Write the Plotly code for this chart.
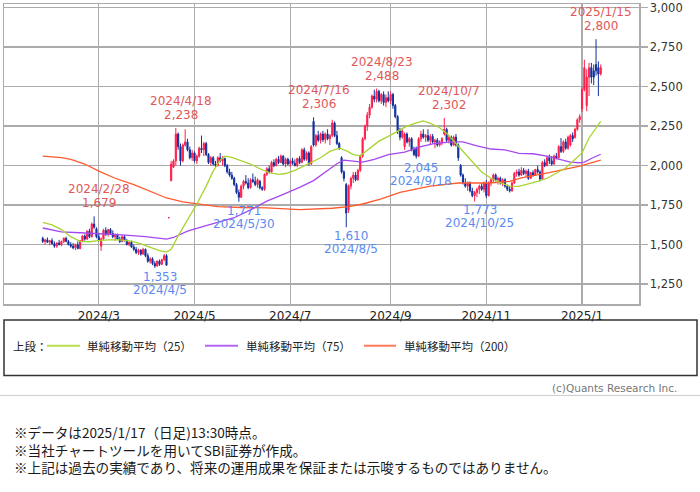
import pandas as pd
import plotly.graph_objects as go

# ---------------- data ----------------
holidays = ["2024-02-12", "2024-02-23", "2024-03-20", "2024-04-29", "2024-05-03",
            "2024-05-06", "2024-07-15", "2024-08-12", "2024-09-16", "2024-09-23",
            "2024-10-14", "2024-11-04", "2024-12-31", "2025-01-01", "2025-01-02",
            "2025-01-03", "2025-01-13"]
days = [d.strftime("%Y-%m-%d") for d in pd.bdate_range("2024-01-25", "2025-01-17")
        if d.strftime("%Y-%m-%d") not in holidays]

open_ = [
    1540, 1520, 1530, 1515, 1525,
    1505, 1490, 1510, 1500, 1520, 1540, 1520, 1500, 1490, 1480, 1500, 1475, 1525, 1555, 1535, 1585, 1550, 1630, 1600,
    1550, 1490, 1535, 1590, 1565, 1595, 1570, 1550, 1560, 1535, 1520, 1550, 1525, 1500, 1515, 1485, 1470, 1450, 1465, 1440,
    1470, 1430, 1395, 1410, 1380, 1365, 1395, 1375, 1405, 1430, 1670, 1905, 1990, 2030, 2200, 2120, 2030, 2130, 2150, 2100, 2050,
    2080, 2030, 2060, 2110, 2100, 2140, 2070, 2020, 2050, 2010, 2000, 2050, 2030, 2045, 2000, 1960, 1940, 1920, 1880, 1830, 1800,
    1870, 1900, 1890, 1860, 1910, 1900, 1880, 1900, 1860, 1850, 1945, 1980, 1960, 2020, 2000, 2040, 2020, 2060, 2010, 2040,
    2010, 2030, 2015, 2000, 2045, 2020, 2100, 2040, 2080, 2010, 2280, 2130, 2190, 2160, 2200, 2165, 2200, 2170, 2190, 2270, 2190, 2140,
    2050, 1960, 1880, 1720, 1870, 1920, 1940, 1910, 1970, 2060, 2170, 2250, 2320, 2370, 2440, 2420, 2470, 2410, 2450, 2400, 2430,
    2410, 2450, 2380, 2310, 2220, 2180, 2120, 2200, 2150, 2170, 2100, 2110, 2060, 2170, 2200, 2180, 2190, 2160, 2185,
    2150, 2160, 2130, 2150, 2200, 2230, 2160, 2180, 2130, 2180, 2130, 2000, 1940, 1890, 1870, 1890, 1840, 1810, 1830, 1850, 1870, 1850,
    1890, 1810, 1890, 1910, 1940, 1910, 1920, 1890, 1910, 1870, 1850, 1840, 1890, 1950, 1960, 1940, 1970, 1950, 1965, 1920,
    1955, 1940, 1975, 1960, 1915, 2020, 2000, 2050, 2030, 2010, 2060, 2050, 2120, 2090, 2150, 2110, 2130, 2190, 2180, 2230, 2290,
    2360, 2480, 2380, 2560, 2620, 2600, 2640, 2620, 2580,
]
high = [
    1550, 1535, 1545, 1530, 1540,
    1520, 1515, 1530, 1525, 1545, 1550, 1530, 1515, 1510, 1505, 1520, 1530, 1560, 1565, 1590, 1600, 1640, 1679, 1610,
    1575, 1545, 1600, 1610, 1600, 1605, 1590, 1570, 1570, 1550, 1560, 1560, 1535, 1520, 1525, 1500, 1485, 1475, 1470, 1480,
    1475, 1445, 1420, 1420, 1395, 1400, 1405, 1410, 1440, 1440, 1670, 2030, 2040, 2238, 2210, 2140, 2140, 2230, 2170, 2120, 2100,
    2090, 2070, 2120, 2190, 2150, 2150, 2080, 2060, 2060, 2030, 2060, 2080, 2060, 2050, 2010, 1980, 1960, 1930, 1890, 1850, 1880,
    1910, 1940, 1920, 1920, 1950, 1930, 1920, 1910, 1870, 1950, 1990, 2000, 2030, 2040, 2050, 2060, 2070, 2065, 2050, 2050,
    2040, 2050, 2040, 2050, 2060, 2110, 2115, 2090, 2090, 2130, 2306, 2200, 2220, 2210, 2220, 2210, 2230, 2200, 2290, 2280, 2220, 2150,
    2060, 1970, 1890, 1880, 1930, 1960, 1960, 1980, 2070, 2180, 2260, 2340, 2390, 2450, 2480, 2488, 2480, 2460, 2470, 2450, 2470,
    2470, 2460, 2390, 2320, 2240, 2230, 2210, 2210, 2180, 2180, 2120, 2120, 2180, 2220, 2230, 2200, 2230, 2200, 2200,
    2170, 2175, 2160, 2180, 2302, 2240, 2190, 2190, 2190, 2200, 2140, 2010, 1950, 1920, 1900, 1900, 1860, 1840, 1860, 1880, 1890, 1900,
    1910, 1900, 1920, 1950, 1950, 1930, 1930, 1920, 1920, 1880, 1870, 1900, 1960, 1975, 1980, 1990, 1985, 1975, 1980, 1960,
    1970, 1980, 2000, 1970, 2030, 2040, 2060, 2070, 2060, 2070, 2080, 2130, 2175, 2160, 2170, 2190, 2200, 2210, 2240, 2300, 2325,
    2500, 2670, 2610, 2650, 2650, 2640, 2800, 2660, 2640,
]
low = [
    1510, 1500, 1510, 1495, 1500,
    1480, 1480, 1495, 1490, 1510, 1515, 1495, 1480, 1470, 1465, 1470, 1470, 1515, 1525, 1530, 1540, 1545, 1600, 1540,
    1520, 1460, 1530, 1555, 1550, 1560, 1540, 1525, 1530, 1510, 1515, 1520, 1495, 1490, 1480, 1460, 1440, 1435, 1430, 1435,
    1420, 1385, 1380, 1370, 1353, 1360, 1365, 1370, 1395, 1365, 1670, 1900, 1985, 2000, 2100, 2000, 2020, 2120, 2090, 2040, 2030,
    2020, 2010, 2050, 2080, 2060, 2060, 2010, 2000, 2000, 1990, 1995, 2020, 2000, 1990, 1950, 1930, 1910, 1870, 1820, 1771, 1795,
    1850, 1880, 1850, 1855, 1890, 1870, 1860, 1850, 1840, 1840, 1935, 1950, 1955, 1990, 1995, 2010, 2015, 2000, 1990, 2000,
    1990, 2005, 1995, 1990, 2010, 2015, 2030, 2030, 2000, 2005, 2120, 2120, 2150, 2140, 2150, 2140, 2160, 2130, 2180, 2180, 2130, 2100,
    1950, 1900, 1610, 1700, 1850, 1890, 1900, 1905, 1960, 2050, 2160, 2220, 2300, 2360, 2400, 2400, 2400, 2390, 2380, 2370, 2400,
    2390, 2360, 2300, 2200, 2160, 2170, 2100, 2140, 2120, 2090, 2060, 2045, 2055, 2150, 2170, 2150, 2150, 2130, 2140,
    2110, 2120, 2120, 2130, 2190, 2150, 2140, 2120, 2125, 2120, 2030, 1930, 1880, 1860, 1840, 1830, 1800, 1773, 1800, 1820, 1840, 1830,
    1795, 1805, 1870, 1890, 1900, 1880, 1880, 1870, 1860, 1840, 1830, 1835, 1885, 1930, 1930, 1935, 1940, 1930, 1910, 1915,
    1930, 1935, 1950, 1900, 1910, 1990, 1995, 2010, 2000, 2005, 2040, 2040, 2080, 2080, 2100, 2100, 2120, 2150, 2170, 2220, 2270,
    2340, 2470, 2345, 2440, 2520, 2510, 2570, 2440, 2570,
]
close = [
    1520, 1530, 1515, 1525, 1505,
    1490, 1510, 1500, 1520, 1540, 1520, 1500, 1490, 1480, 1500, 1475, 1525, 1555, 1535, 1585, 1550, 1630, 1610, 1550,
    1530, 1535, 1590, 1565, 1595, 1570, 1550, 1560, 1535, 1520, 1550, 1525, 1500, 1515, 1485, 1470, 1450, 1465, 1440, 1470,
    1430, 1395, 1410, 1380, 1365, 1395, 1375, 1405, 1430, 1370, 1670, 2010, 2030, 2200, 2120, 2030, 2130, 2150, 2100, 2050, 2080,
    2030, 2060, 2110, 2100, 2140, 2070, 2020, 2050, 2010, 2000, 2050, 2030, 2045, 2000, 1960, 1940, 1920, 1880, 1830, 1800, 1870,
    1900, 1890, 1860, 1910, 1900, 1880, 1910, 1860, 1850, 1945, 1980, 1960, 2020, 2000, 2040, 2020, 2060, 2010, 2040, 2010,
    2030, 2015, 2000, 2045, 2020, 2100, 2040, 2080, 2010, 2120, 2130, 2190, 2160, 2200, 2165, 2200, 2170, 2190, 2270, 2190, 2140, 2110,
    1960, 1920, 1700, 1870, 1920, 1940, 1910, 1970, 2060, 2170, 2250, 2320, 2370, 2440, 2420, 2470, 2410, 2450, 2400, 2430, 2410,
    2450, 2380, 2310, 2220, 2180, 2220, 2200, 2150, 2170, 2100, 2070, 2060, 2170, 2200, 2180, 2190, 2160, 2185, 2150,
    2160, 2130, 2150, 2170, 2230, 2160, 2180, 2130, 2180, 2130, 2050, 1940, 1890, 1870, 1890, 1840, 1810, 1830, 1850, 1870, 1850, 1890,
    1810, 1890, 1910, 1940, 1910, 1920, 1890, 1910, 1870, 1850, 1840, 1890, 1950, 1960, 1940, 1970, 1950, 1965, 1920, 1955,
    1940, 1975, 1960, 1915, 2020, 2000, 2050, 2030, 2010, 2060, 2050, 2120, 2090, 2150, 2110, 2180, 2190, 2170, 2230, 2290, 2310,
    2480, 2620, 2560, 2620, 2560, 2560, 2600, 2580, 2620,
]

# moving averages: (trading-day index, value)
ma25_idx = [0, 4, 8, 12, 16, 20, 24, 28, 33, 38, 42, 46, 50, 53, 55, 58, 62, 66, 70, 73, 76, 78, 81, 85, 89, 93, 97, 101, 104,
            108, 112, 116, 119, 123, 127, 130, 133, 136, 140, 144, 148, 152, 156, 160, 163, 166, 170, 173, 177, 180, 184,
            188, 192, 196, 200, 204, 208, 212, 216, 220, 224, 228, 231, 234, 237, 239]
ma25_val = [1640, 1625, 1595, 1550, 1520, 1518, 1525, 1530, 1530, 1522, 1505, 1485, 1462, 1452, 1470, 1555, 1655, 1757,
            1870, 1965, 2035, 2060, 2052, 2030, 2010, 1980, 1955, 1945, 1950, 1970, 2000, 2030, 2050, 2090, 2110, 2095,
            2070, 2062, 2110, 2155, 2185, 2215, 2250, 2270, 2283, 2268, 2240, 2205, 2140, 2090, 2030, 1960, 1920, 1890,
            1870, 1868, 1885, 1900, 1920, 1955, 1985, 2040, 2080, 2175, 2240, 2280]
ma75_idx = [0, 8, 16, 24, 34, 44, 53, 56, 62, 70, 76, 82, 89, 96, 102, 110, 116, 122, 126, 129, 133, 137, 142, 148, 155,
            162, 168, 175, 180, 186, 192, 198, 204, 210, 216, 221, 226, 230, 232, 235, 239]
ma75_val = [1605, 1580, 1575, 1570, 1562, 1550, 1535, 1545, 1585, 1620, 1645, 1670, 1720, 1775, 1812, 1862, 1905, 1970,
            2012, 2035, 2028, 2022, 2040, 2070, 2085, 2120, 2140, 2150, 2150, 2125, 2105, 2100, 2078, 2075, 2060, 2042,
            2022, 2018, 2022, 2045, 2072]
ma200_idx = [0, 8, 12, 18, 24, 31, 39, 46, 53, 60, 66, 75, 85, 96, 110, 124, 131, 137, 145, 153, 166, 178, 191, 200, 205,
             217, 230, 239]
ma200_val = [2060, 2050, 2040, 2010, 1965, 1920, 1880, 1835, 1795, 1770, 1757, 1740, 1735, 1732, 1722, 1730, 1740, 1757,
             1790, 1830, 1870, 1890, 1890, 1900, 1922, 1955, 1997, 2035]

# labelled extremes
high_marks = [("2024-02-28", 1679), ("2024-04-18", 2238), ("2024-07-16", 2306),
              ("2024-08-23", 2488), ("2024-10-07", 2302), ("2025-01-15", 2800)]
low_marks = [("2024-04-05", 1353), ("2024-05-30", 1771), ("2024-08-05", 1610),
             ("2024-09-18", 2045), ("2024-10-25", 1773)]

month_ticks = ["2024-03", "2024-05", "2024-07", "2024-09", "2024-11", "2025-01"]
month_labels = ["2024/3", "2024/5", "2024/7", "2024/9", "2024/11", "2025/1"]
y_ticks = [1250, 1500, 1750, 2000, 2250, 2500, 2750, 3000]

legend_names = ["単純移動平均（25）", "単純移動平均（75）", "単純移動平均（200）"]
notes = ["※データは2025/1/17（日足)13:30時点。",
         "※当社チャートツールを用いてSBI証券が作成。",
         "※上記は過去の実績であり、将来の運用成果を保証または示唆するものではありません。"]

# ---------------- styles ----------------
UP = "#ff1f4b"
DOWN = "#11319b"
C25, C75, C200 = "#a8d430", "#a548f0", "#ff5a2e"
L25, L75, L200 = "#b8de48", "#b466f2", "#ff7a58"
HI_TXT, LO_TXT = "#e05858", "#5b8bf0"
GRID = "#ababab"
JP = "Noto Sans CJK JP"
NUM = "DejaVu Sans"

W, H = 700, 492
ML, MR, MT, MB = 4, 61, 2, 188
PW, PH = W - ML - MR, H - MT - MB


def px(x):
    return (x - ML) / PW


def py(y):
    return (H - MB - y) / PH


def fmt_date(d):
    y, m, dd = d.split("-")
    return f"{int(y)}/{int(m)}/{int(dd)}"


fig = go.Figure()
fig.add_trace(go.Candlestick(
    x=days, open=open_, high=high, low=low, close=close,
    increasing=dict(line=dict(color=UP, width=1), fillcolor=UP),
    decreasing=dict(line=dict(color=DOWN, width=1), fillcolor=DOWN),
    whiskerwidth=0, showlegend=False, hoverinfo="skip"))

for idx, val, col in [(ma200_idx, ma200_val, C200), (ma75_idx, ma75_val, C75), (ma25_idx, ma25_val, C25)]:
    fig.add_trace(go.Scatter(x=[days[i] for i in idx], y=val, mode="lines",
                             line=dict(color=col, width=1.3), showlegend=False, hoverinfo="skip"))

annotations = []
for d, v in high_marks:
    annotations.append(dict(x=d, y=v, xref="x", yref="y", text=f"{v:,}", showarrow=False,
                            xshift=5, yshift=13, font=dict(family=NUM, size=12, color=HI_TXT)))
    annotations.append(dict(x=d, y=v, xref="x", yref="y", text=fmt_date(d), showarrow=False,
                            xshift=5, yshift=27, font=dict(family=NUM, size=12, color=HI_TXT)))
for d, v in low_marks:
    annotations.append(dict(x=d, y=v, xref="x", yref="y", text=f"{v:,}", showarrow=False,
                            xshift=5, yshift=-9, font=dict(family=NUM, size=12, color=LO_TXT)))
    annotations.append(dict(x=d, y=v, xref="x", yref="y", text=fmt_date(d), showarrow=False,
                            xshift=5, yshift=-22, font=dict(family=NUM, size=12, color=LO_TXT)))

# legend panel
shapes = [dict(type="rect", xref="paper", yref="paper", x0=px(4), x1=px(697), y0=py(320), y1=py(376),
               line=dict(color="#333333", width=1.5), fillcolor="rgba(0,0,0,0)")]
annotations.append(dict(xref="paper", yref="paper", x=px(11), y=py(346), xanchor="left", yanchor="middle",
                        text="上段：", showarrow=False, font=dict(family=JP, size=11.5, color="#222")))
for (x0, x1, tx), name, col in zip([(47, 80, 85), (205, 238, 244), (364, 396, 402)], legend_names, [L25, L75, L200]):
    shapes.append(dict(type="line", xref="paper", yref="paper", x0=px(x0), x1=px(x1), y0=py(346), y1=py(346),
                       line=dict(color=col, width=2)))
    annotations.append(dict(xref="paper", yref="paper", x=px(tx), y=py(346), xanchor="left", yanchor="middle",
                            text=name, showarrow=False, font=dict(family=JP, size=11.5, color="#222")))

annotations.append(dict(xref="paper", yref="paper", x=px(679), y=py(389), xanchor="right", yanchor="middle",
                        text="(c)Quants Research Inc.", showarrow=False, font=dict(family=NUM, size=10.5, color="#777")))
shapes.append(dict(type="line", xref="paper", yref="paper", x0=px(0), x1=px(700), y0=py(396), y1=py(396),
                   line=dict(color="#cccccc", width=1)))

for i, t in enumerate(notes):
    annotations.append(dict(xref="paper", yref="paper", x=px(12), y=py(433 + 17.5 * i), xanchor="left",
                            yanchor="middle", text=t, showarrow=False,
                            font=dict(family=JP, size=13.6, color="#1a1a1a")))

tick_idx = [next(i for i, d in enumerate(days) if d.startswith(m)) for m in month_ticks]

fig.update_layout(
    width=W, height=H, margin=dict(l=ML, r=MR, t=MT, b=MB),
    paper_bgcolor="white", plot_bgcolor="white",
    font=dict(family=NUM, size=12, color="#222"),
    shapes=shapes, annotations=annotations, showlegend=False,
    xaxis=dict(type="category", range=[-16.6, 255.4], rangeslider=dict(visible=False),
               tickmode="array", tickvals=[days[i] for i in tick_idx], ticktext=month_labels,
               showgrid=True, gridcolor=GRID, gridwidth=1.3, ticks="", showline=True, mirror=True,
               linecolor=GRID, linewidth=1.5, tickfont=dict(family=NUM, size=12, color="#222"), zeroline=False),
    yaxis=dict(side="right", range=[1124, 3023], tickmode="array", tickvals=y_ticks, tickformat=",",
               showgrid=True, gridcolor=GRID, gridwidth=1.3, ticks="outside", ticklen=7, tickcolor=GRID,
               tickwidth=1.3, showline=True, mirror=True, linecolor=GRID, linewidth=1.5,
               tickfont=dict(family=NUM, size=11.5, color="#333"), zeroline=False),
)

fig.write_html("out.html", config={"displayModeBar": False, "staticPlot": True},
               post_script="document.body.style.margin='0';")
